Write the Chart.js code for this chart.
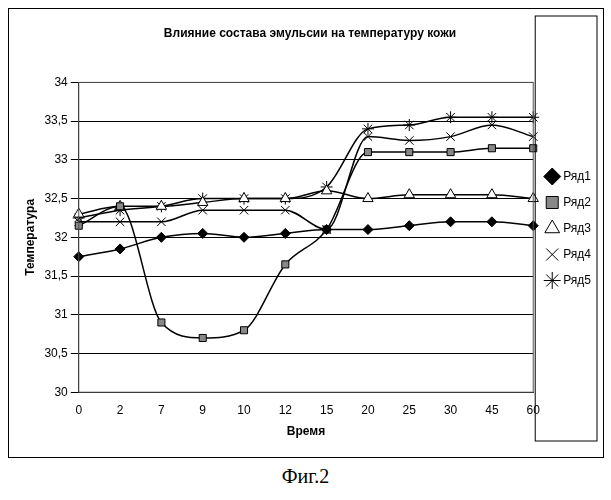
<!DOCTYPE html><html><head><script src="https://cdn.jsdelivr.net/npm/chart.js@4"></script>
<style>body{margin:0;background:#fff}#w{position:absolute;left:8px;top:8px;width:596px;height:450px;border:1px solid #000;box-sizing:border-box}
#cap{position:absolute;top:465px;left:0;width:611px;text-align:center;font-family:"Liberation Serif";font-size:20px}</style></head><body>
<div id="w"><canvas id="c"></canvas></div><div id="cap">Фиг.2</div>
<script>
const categories=["0","2","7","9","10","12","15","20","25","30","45","60"];
const r1=[31.75,31.85,32.0,32.05,32.0,32.05,32.1,32.1,32.15,32.2,32.2,32.15];
const r2=[32.15,32.4,30.9,30.7,30.8,31.65,32.1,33.1,33.1,33.1,33.15,33.15];
const r3=[32.3,32.4,32.4,32.45,32.5,32.5,32.6,32.5,32.55,32.55,32.55,32.5];
const r4=[32.2,32.2,32.2,32.35,32.35,32.35,32.1,33.3,33.25,33.3,33.45,33.3];
const r5=[32.25,32.35,32.4,32.5,32.5,32.5,32.65,33.4,33.45,33.55,33.55,33.55];
const mk=(l,d,s,bg,r)=>({label:l,data:d,pointStyle:s,backgroundColor:bg,borderColor:'#000',pointBorderColor:'#000',pointBackgroundColor:bg,borderWidth:1.5,pointRadius:r,pointBorderWidth:1,cubicInterpolationMode:'monotone'});
const boxPlugin={id:'box',afterDraw(c){const a=c.chartArea,x=c.ctx;x.save();x.strokeStyle='#555';x.lineWidth=1;x.strokeRect(a.left,a.top,a.right-a.left,a.bottom-a.top);
const l=c.legend;x.strokeStyle='#000';x.strokeRect(l.left+2,l.top+2,l.width-6,l.height-4);x.restore();}};
new Chart(document.getElementById('c'),{type:'line',data:{labels:categories,datasets:[
mk('Ряд1',r1,'rectRot','#000',5),mk('Ряд2',r2,'rect','#888',5),mk('Ряд3',r3,'triangle','#fff',6),mk('Ряд4',r4,'crossRot','#000',6),mk('Ряд5',r5,'star','#000',6)]},
plugins:[boxPlugin],
options:{responsive:true,maintainAspectRatio:false,animation:false,layout:{padding:{top:5,right:2,bottom:14,left:10}},
plugins:{title:{display:true,text:'Влияние состава эмульсии на температуру кожи',font:{family:'Liberation Sans',size:12,weight:'bold'},color:'#000',padding:{top:12,bottom:42}},
legend:{position:'right',labels:{usePointStyle:true,color:'#000',font:{family:'Liberation Sans',size:12},padding:14,boxWidth:10}}},
scales:{x:{offset:false,title:{display:true,text:'Время',font:{family:'Liberation Sans',size:12,weight:'bold'},color:'#000'},grid:{display:false},border:{color:'#000'},ticks:{color:'#000',font:{family:'Liberation Sans',size:12}}},
y:{min:30,max:34,title:{display:true,text:'Температура',font:{family:'Liberation Sans',size:12,weight:'bold'},color:'#000'},grid:{color:'#000'},border:{color:'#000'},ticks:{stepSize:0.5,color:'#000',font:{family:'Liberation Sans',size:12},callback:v=>String(v).replace('.',',')}}}}});
</script></body></html>
